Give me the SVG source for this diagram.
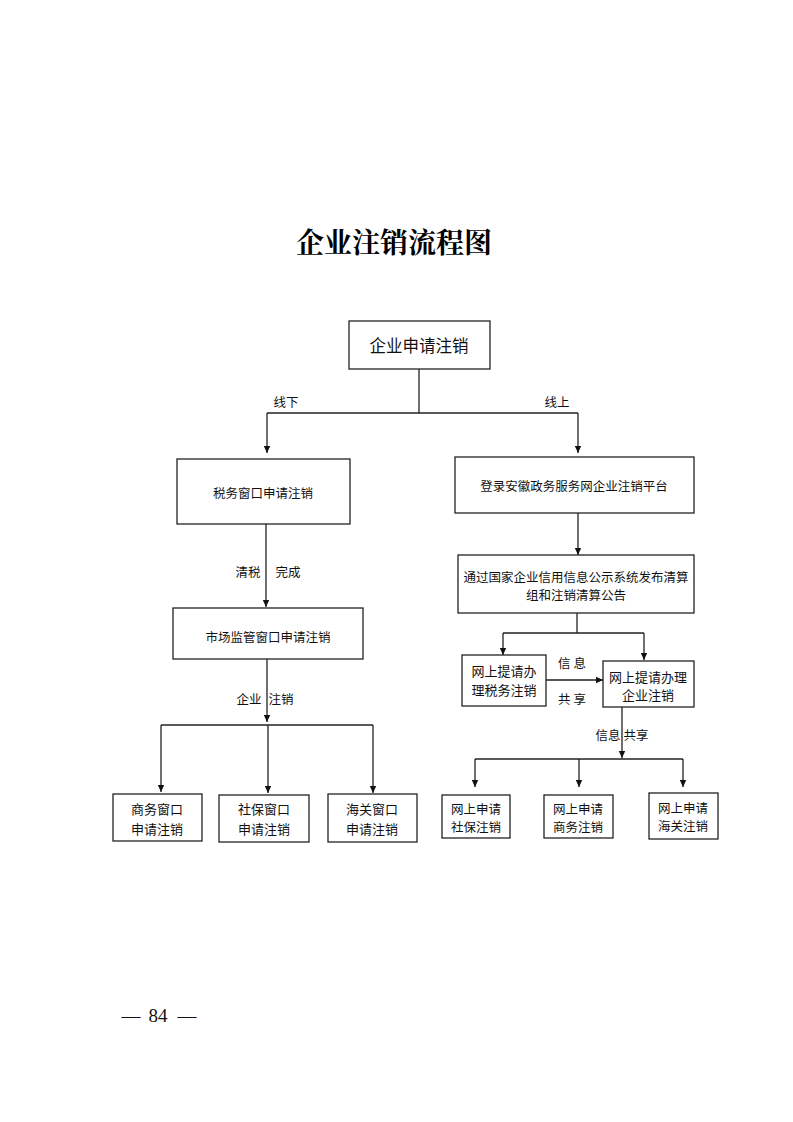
<svg xmlns="http://www.w3.org/2000/svg" width="793" height="1122" viewBox="0 0 793 1122">
<style>
.box{fill:#fff;stroke:#222;stroke-width:1.3}
.ln{fill:none;stroke:#222;stroke-width:1.3}
.t{font-family:"Noto Sans CJK SC","Noto Sans CJK TC",sans-serif;fill:#111;text-anchor:middle;dominant-baseline:central}
.s{font-size:12.5px}
.m{font-size:13px}
.title{font-family:"Noto Serif CJK SC","Noto Sans CJK SC",serif;font-weight:bold;font-size:28px;fill:#000;text-anchor:middle}
.foot{font-family:"Liberation Serif",serif;font-size:19px;fill:#111;text-anchor:middle}
</style>
<defs>
<marker id="ah" markerWidth="8" markerHeight="8" refX="7" refY="4" orient="auto" markerUnits="userSpaceOnUse">
<path d="M0,0.8 L7,4 L0,7.2 Z" fill="#111"/>
</marker>
</defs>
<rect width="793" height="1122" fill="#fff"/>
<text class="title" x="394" y="253">企业注销流程图</text>

<g id="connectors">
<path class="ln" d="M419,369 V413 M267,413 H578"/>
<path class="ln" d="M267,413 V453" marker-end="url(#ah)"/>
<path class="ln" d="M578,413 V453" marker-end="url(#ah)"/>
<path class="ln" d="M266,524 V607" marker-end="url(#ah)"/>
<path class="ln" d="M267,659 V722" marker-end="url(#ah)"/>
<path class="ln" d="M161,725 H373"/>
<path class="ln" d="M161,725 V792" marker-end="url(#ah)"/>
<path class="ln" d="M268,725 V793" marker-end="url(#ah)"/>
<path class="ln" d="M373,725 V793" marker-end="url(#ah)"/>
<path class="ln" d="M578,513 V555" marker-end="url(#ah)"/>
<path class="ln" d="M577,613 V633 M503,633 H644"/>
<path class="ln" d="M503,633 V655" marker-end="url(#ah)"/>
<path class="ln" d="M644,633 V660" marker-end="url(#ah)"/>
<path class="ln" d="M546,680 H603" marker-end="url(#ah)"/>
<path class="ln" d="M622,707 V758" marker-end="url(#ah)"/>
<path class="ln" d="M475,759 H683"/>
<path class="ln" d="M475,759 V787" marker-end="url(#ah)"/>
<path class="ln" d="M579,759 V787" marker-end="url(#ah)"/>
<path class="ln" d="M683,759 V787" marker-end="url(#ah)"/>
<text class="t s" x="286" y="401">线下</text>
<text class="t s" x="557" y="401">线上</text>
<text class="t s" x="248" y="571">清税</text>
<text class="t s" x="288" y="571">完成</text>
<text class="t s" x="249" y="698">企业</text>
<text class="t s" x="281" y="698">注销</text>
<text class="t s" x="572" y="662" xml:space="preserve">信 息</text>
<text class="t s" x="572" y="698" xml:space="preserve">共 享</text>
<text class="t s" x="608" y="734">信息</text>
<text class="t s" x="636" y="734">共享</text>
</g>

<g id="n1"><rect class="box" x="349" y="321" width="141" height="48"/><text class="t" style="font-size:16.5px" x="419" y="345">企业申请注销</text></g>
<g id="n2"><rect class="box" x="177" y="459" width="173" height="65"/><text class="t s" x="263" y="492">税务窗口申请注销</text></g>
<g id="n3"><rect class="box" x="455" y="457" width="239" height="56"/><text class="t s" x="574" y="485">登录安徽政务服务网企业注销平台</text></g>
<g id="n4"><rect class="box" x="173" y="608" width="190" height="51"/><text class="t s" x="268" y="636">市场监管窗口申请注销</text></g>
<g id="n5"><rect class="box" x="458" y="555" width="236" height="58"/><text class="t s" x="576" y="576">通过国家企业信用信息公示系统发布清算</text><text class="t s" x="576" y="594">组和注销清算公告</text></g>
<g id="n6"><rect class="box" x="462" y="655" width="84" height="51"/><text class="t m" x="504" y="670">网上提请办</text><text class="t m" x="504" y="689">理税务注销</text></g>
<g id="n7"><rect class="box" x="603" y="661" width="91" height="46"/><text class="t m" x="648" y="676">网上提请办理</text><text class="t m" x="648" y="694">企业注销</text></g>
<g id="n8"><rect class="box" x="113" y="794" width="89" height="47"/><text class="t m" x="157" y="808">商务窗口</text><text class="t m" x="157" y="828">申请注销</text></g>
<g id="n9"><rect class="box" x="219" y="795" width="90" height="47"/><text class="t m" x="264" y="808">社保窗口</text><text class="t m" x="264" y="828">申请注销</text></g>
<g id="n10"><rect class="box" x="328" y="794" width="89" height="48"/><text class="t m" x="372" y="808">海关窗口</text><text class="t m" x="372" y="828">申请注销</text></g>
<g id="n11"><rect class="box" x="442" y="795" width="68" height="43"/><text class="t s" x="476" y="808">网上申请</text><text class="t s" x="476" y="826">社保注销</text></g>
<g id="n12"><rect class="box" x="544" y="795" width="69" height="43"/><text class="t s" x="578" y="808">网上申请</text><text class="t s" x="578" y="826">商务注销</text></g>
<g id="n13"><rect class="box" x="649" y="793" width="69" height="46"/><text class="t s" x="683" y="807">网上申请</text><text class="t s" x="683" y="825">海关注销</text></g>

<text class="foot" x="131" y="1022">—</text>
<text class="foot" x="158" y="1022">84</text>
<text class="foot" x="187" y="1022">—</text>
</svg>
